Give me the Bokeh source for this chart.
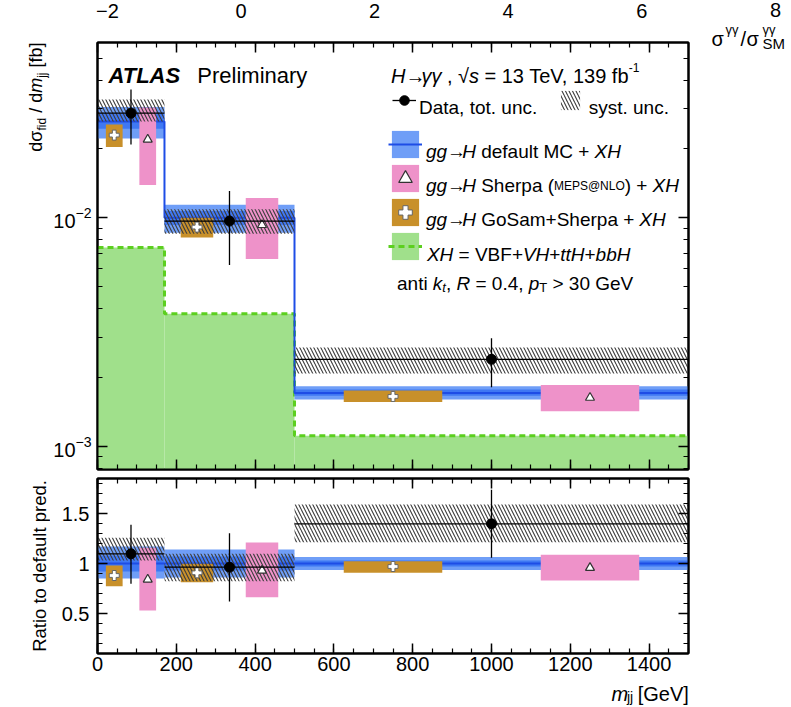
import math
from bokeh.plotting import figure
from bokeh.layouts import column, row
from bokeh.models import (ColumnDataSource, Range1d, LinearAxis, LogAxis, FixedTicker,
                          SingleIntervalTicker, Label, Legend, LegendItem)
from bokeh.embed import file_html
from bokeh.resources import INLINE

# ---------------- data ----------------
bin_edges = [0, 170, 500, 1500]

# main panel: d sigma / d m_jj [fb]
data_val = [0.0287, 0.00967, 0.0024]
data_tot_lo = [0.0209, 0.00621, 0.00181]
data_tot_hi = [0.0364, 0.0131, 0.00297]
data_sys_lo = [0.0264, 0.0085, 0.00208]
data_sys_hi = [0.0329, 0.0109, 0.0027]
mc_val = [0.0264, 0.0100, 0.00171]
mc_out_lo = [0.0222, 0.0086, 0.00160]
mc_out_hi = [0.0305, 0.0114, 0.00183]
mc_in_lo = [0.0245, 0.0093, 0.00166]
mc_in_hi = [0.0285, 0.0107, 0.00177]
sherpa_val = [0.0220, 0.0093, 0.00163]
sherpa_lo = [0.0139, 0.0066, 0.00142]
sherpa_hi = [0.0304, 0.0122, 0.00185]
gosam_val = [0.0230, 0.0091, 0.00165]
gosam_lo = [0.0204, 0.0082, 0.00156]
gosam_hi = [0.0256, 0.0100, 0.00175]
xh_val = [0.0074, 0.0038, 0.00111]

# ratio panel: ratio to default prediction
r_data = [1.097, 0.963, 1.397]
r_tot_lo = [0.797, 0.62, 1.057]
r_tot_hi = [1.387, 1.303, 1.737]
r_sys_lo = [1.03, 0.823, 1.213]
r_sys_hi = [1.257, 1.097, 1.59]
r_mc = [1.0, 1.0, 1.0]
r_mc_out_lo = [0.85, 0.86, 0.935]
r_mc_out_hi = [1.17, 1.14, 1.065]
r_mc_in_lo = [0.92, 0.93, 0.97]
r_mc_in_hi = [1.08, 1.07, 1.03]
r_sherpa = [0.84, 0.93, 0.957]
r_sherpa_lo = [0.53, 0.663, 0.83]
r_sherpa_hi = [1.157, 1.21, 1.087]
r_gosam = [0.88, 0.907, 0.97]
r_gosam_lo = [0.773, 0.813, 0.907]
r_gosam_hi = [0.98, 0.997, 1.023]

# axis ticks
x_tick_interval = 200
main_y_ticks = [1e-3, 1e-2]
ratio_y_ticks = [0.5, 1.0, 1.5]
mu_ticks = [-2, 0, 2, 4, 6]
mu_extra_tick = 8

# ---------------- style / geometry ----------------
FONT = "Liberation Sans"
BLUE_OUT = "#6f9ef7"
BLUE_IN = "#3f78f3"
BLUE_LINE = "#1e4de6"
PINK = "#ee92c9"
ORANGE = "#c8902a"
GREEN_FILL = "#a0e08b"
GREEN_LINE = "#5ccf1f"
HATCH = "#3c3c3c"

X_RANGE = (0, 1500)
Y1_RANGE = (7.9e-4, 0.0585)
Y2_RANGE = (0.1, 1.85)
MU_RANGE = (-2.149, 6.70)

PAGE_W, PAGE_H = 789, 705
LW = 50                      # left text strip
FL, FR = 96, 688             # frame left / right (page px)
FT1, FB1 = 41, 469           # main frame top / bottom
FT2, FB2 = 478, 653          # ratio frame top / bottom
RB = 4                       # right border of the panels
MID_W = (FL - LW) + (FR - FL) + RB
RW = PAGE_W - LW - MID_W     # right text strip
H1 = FB1 + 5
H2 = (FB2 - H1) + 27
BH = PAGE_H - H1 - H2        # bottom text strip
R_LEFT = LW + MID_W
B_TOP = H1 + H2


def gx(px):
    return X_RANGE[0] + (px - FL) / (FR - FL) * (X_RANGE[1] - X_RANGE[0])


def gy1(py):
    a, b = math.log10(Y1_RANGE[0]), math.log10(Y1_RANGE[1])
    return 10 ** (b - (py - FT1) / (FB1 - FT1) * (b - a))


_W = {' ': 278, '!': 278, '(': 333, ')': 333, '+': 584, ',': 278, '-': 333, '.': 278,
      '/': 278, '=': 584, '>': 584, '@': 1015, '[': 278, ']': 278,
      'A': 667, 'B': 667, 'C': 722, 'D': 722, 'E': 667, 'F': 611, 'G': 778, 'H': 722,
      'I': 278, 'J': 500, 'K': 667, 'L': 556, 'M': 833, 'N': 722, 'O': 778, 'P': 667,
      'Q': 778, 'R': 722, 'S': 667, 'T': 611, 'U': 722, 'V': 667, 'W': 944, 'X': 667,
      'Y': 667, 'Z': 611, 'a': 556, 'b': 556, 'c': 500, 'd': 556, 'e': 556, 'f': 278,
      'g': 556, 'h': 556, 'i': 222, 'j': 222, 'k': 500, 'l': 222, 'm': 833, 'n': 556,
      'o': 556, 'p': 556, 'q': 556, 'r': 333, 's': 500, 't': 278, 'u': 556, 'v': 500,
      'w': 722, 'x': 500, 'y': 500, 'z': 500, 'γ': 500, 'σ': 617, '→': 800, '√': 549,
      '−': 584}


def tw(text, size):
    return sum(_W.get(c, 556) for c in text) * size / 1000.0


def add_label(p, x, y, text, size, style="normal", angle=0.0, align="left", baseline="alphabetic"):
    p.add_layout(Label(x=x, y=y, text=text, text_font=FONT, text_font_size=f"{size}px",
                       text_font_style=style, text_color="black", angle=angle,
                       text_align=align, text_baseline=baseline))


def hlabels(p, segs, x0, base, cx, cy, align="left"):
    """segments: (text, size, style, raise_px[, extra_x_shift])"""
    total = sum(tw(sg[0], sg[1]) for sg in segs)
    x = x0 - total if align == "right" else x0
    for sg in segs:
        t, s, st, dy = sg[:4]
        sh = sg[4] if len(sg) > 4 else 0
        lead = len(t) - len(t.lstrip(" "))
        add_label(p, cx(x + sh + tw(t[:lead], s)), cy(base - dy), t.strip(" "), s, st)
        x += tw(t, s) + sh


def vlabels(p, segs, center_x, y_start, cx, cy):
    """rotated text reading upward from page y = y_start; center_x is the glyph-body centre"""
    y = y_start
    for t, s, st, dx in segs:
        lead = len(t) - len(t.lstrip(" "))
        add_label(p, cx(center_x + dx), cy(y - tw(t[:lead], s)), t.strip(" "), s, st,
                  angle=math.pi / 2, baseline="middle")
        y -= tw(t, s)


def style_axis(ax, labels=True, size="20px", standoff=6):
    ax.major_tick_in = 10
    ax.major_tick_out = 0
    ax.minor_tick_in = 5
    ax.minor_tick_out = 0
    ax.major_tick_line_color = "black"
    ax.minor_tick_line_color = "black"
    ax.major_tick_line_width = 1.5
    ax.minor_tick_line_width = 1.2
    ax.axis_line_color = "black"
    ax.axis_line_width = 2
    ax.major_label_text_font = FONT
    if labels:
        ax.major_label_text_color = "black"
        ax.major_label_text_font_size = size
        ax.major_label_standoff = standoff
    else:
        ax.major_label_text_color = None
        ax.major_label_text_font_size = "1px"
        ax.major_label_standoff = 0


def strip(w, h):
    f = figure(width=w, height=h, x_range=Range1d(0, w), y_range=Range1d(h, 0),
               x_axis_location=None, y_axis_location=None, toolbar_location=None,
               output_backend="svg", min_border_left=0, min_border_right=0,
               min_border_top=0, min_border_bottom=0)
    f.outline_line_color = None
    f.grid.visible = False
    f.background_fill_color = "white"
    f.border_fill_color = "white"
    return f


# ---------------- sources ----------------
lo = bin_edges[:-1]
hi = bin_edges[1:]
wid = [b - a for a, b in zip(lo, hi)]
ctr = [a + 0.5 * w for a, w in zip(lo, wid)]
gosam_x = [a + 0.25 * w for a, w in zip(lo, wid)]
sherpa_x = [a + 0.75 * w for a, w in zip(lo, wid)]
box_half = [0.125 * w for w in wid]

geo = dict(left=lo, right=hi, x=ctr, gx=gosam_x, sx=sherpa_x,
           gl=[a - h for a, h in zip(gosam_x, box_half)], gr=[a + h for a, h in zip(gosam_x, box_half)],
           sl=[a - h for a, h in zip(sherpa_x, box_half)], sr=[a + h for a, h in zip(sherpa_x, box_half)])

main_src = ColumnDataSource(dict(geo, val=data_val, tlo=data_tot_lo, thi=data_tot_hi,
                                 slo=data_sys_lo, shi=data_sys_hi,
                                 olo=mc_out_lo, ohi=mc_out_hi, ilo=mc_in_lo, ihi=mc_in_hi,
                                 sv=sherpa_val, svlo=sherpa_lo, svhi=sherpa_hi,
                                 gv=gosam_val, gvlo=gosam_lo, gvhi=gosam_hi, xh=xh_val,
                                 base=[Y1_RANGE[0]] * len(xh_val)))
ratio_src = ColumnDataSource(dict(geo, val=r_data, tlo=r_tot_lo, thi=r_tot_hi,
                                  slo=r_sys_lo, shi=r_sys_hi,
                                  olo=r_mc_out_lo, ohi=r_mc_out_hi, ilo=r_mc_in_lo, ihi=r_mc_in_hi,
                                  sv=r_sherpa, svlo=r_sherpa_lo, svhi=r_sherpa_hi,
                                  gv=r_gosam, gvlo=r_gosam_lo, gvhi=r_gosam_hi))


def draw(p, s, mc_line):
    r = {}
    r["out"] = p.quad(left="left", right="right", bottom="olo", top="ohi", source=s,
                      fill_color=BLUE_OUT, line_color=None)
    r["in"] = p.quad(left="left", right="right", bottom="ilo", top="ihi", source=s,
                     fill_color=BLUE_IN, line_color=None)
    r["line"] = p.step(x=bin_edges, y=mc_line + [mc_line[-1]], mode="after",
                       line_color=BLUE_LINE, line_width=2)
    r["pink"] = p.quad(left="sl", right="sr", bottom="svlo", top="svhi", source=s,
                       fill_color=PINK, line_color=None)
    r["orange"] = p.quad(left="gl", right="gr", bottom="gvlo", top="gvhi", source=s,
                         fill_color=ORANGE, line_color=None)
    r["hatch"] = p.quad(left="left", right="right", bottom="slo", top="shi", source=s,
                        fill_alpha=0, line_color=None, hatch_pattern="\\",
                        hatch_color=HATCH, hatch_weight=1.1, hatch_scale=7)
    r["tri"] = p.scatter(x="sx", y="sv", source=s, marker="triangle", size=9,
                         fill_color="white", line_color="#333333", line_width=1.2)
    r["plus"] = p.scatter(x="gx", y="gv", source=s, marker="plus", size=10,
                          fill_color="white", line_color="#666666", line_width=1)
    r["hseg"] = p.segment(x0="left", x1="right", y0="val", y1="val", source=s,
                          line_color="black", line_width=1.3)
    r["vseg"] = p.segment(x0="x", x1="x", y0="tlo", y1="thi", source=s,
                          line_color="black", line_width=1.3)
    r["dot"] = p.scatter(x="x", y="val", source=s, marker="circle", size=10,
                         fill_color="black", line_color="black")
    return r


# ---------------- main panel ----------------
p1 = figure(width=MID_W, height=H1, x_range=Range1d(*X_RANGE), y_range=Range1d(*Y1_RANGE),
            y_axis_type="log", output_backend="svg", toolbar_location=None,
            min_border_left=FL - LW, min_border_right=RB, min_border_top=FT1, min_border_bottom=H1 - FB1)
p1.extra_x_ranges = {"mu": Range1d(*MU_RANGE)}
p1.xgrid.grid_line_color = None
p1.ygrid.grid_line_color = None
p1.outline_line_color = "black"
p1.outline_line_width = 2
p1.background_fill_color = "white"
p1.border_fill_color = "white"

g_fill = p1.quad(left="left", right="right", bottom="base", top="xh", source=main_src,
                 fill_color=GREEN_FILL, line_color=None)
g_line = p1.step(x=bin_edges, y=xh_val + [xh_val[-1]], mode="after",
                 line_color=GREEN_LINE, line_width=3, line_dash="6 4")
m = draw(p1, main_src, mc_val)

xt = SingleIntervalTicker(interval=x_tick_interval, num_minor_ticks=4)
yt1 = FixedTicker(ticks=main_y_ticks,
                  minor_ticks=[k * 10 ** e for e in (-4, -3, -2) for k in range(2, 10)])
style_axis(p1.xaxis[0], labels=False)
p1.xaxis[0].ticker = xt
style_axis(p1.yaxis[0], labels=True, standoff=6)
p1.yaxis[0].ticker = yt1

ax = LinearAxis(ticker=xt)
style_axis(ax, labels=False)
p1.add_layout(ax, "above")
mu_ax = LinearAxis(x_range_name="mu", ticker=FixedTicker(ticks=mu_ticks))
style_axis(mu_ax, labels=True, standoff=25)
mu_ax.axis_line_color = None
mu_ax.major_tick_line_color = None
mu_ax.minor_tick_line_color = None
mu_ax.major_label_overrides = {-2: "\u22122"}
p1.add_layout(mu_ax, "above")
ax = LogAxis(ticker=yt1)
style_axis(ax, labels=False)
p1.add_layout(ax, "right")

# texts in the main frame (page px -> data)
ident = lambda v: v
add_label(p1, gx(107), gy1(74), "ATLAS", 22, "bold italic")
add_label(p1, gx(196), gy1(74), "Preliminary", 22)
hlabels(p1, [("H", 20, "italic", 0), ("→", 20, "normal", 0), ("γγ", 20, "italic", 0),
             (" , ", 20, "normal", 0), ("√", 20, "normal", 0), ("s", 20, "italic", 0),
             (" = 13 TeV, 139 fb", 20, "normal", 0), ("-1", 12, "normal", 8, -4)], 390, 74.5, gx, gy1)
hlabels(p1, [("anti ", 19, "normal", 0), ("k", 19, "italic", 0), ("t", 13, "italic", -4),
             (", ", 19, "normal", 0), ("R", 19, "italic", 0), (" = 0.4, ", 19, "normal", 0),
             ("p", 19, "italic", 0), ("T", 13, "normal", -4), (" > 30 GeV", 19, "normal", 0)],
        396, 283, gx, gy1)

# legend labels
LEG_FS = 19
hlabels(p1, [("Data, tot. unc.", LEG_FS, "normal", 0)], 418, 106, gx, gy1)
hlabels(p1, [("syst. unc.", LEG_FS, "normal", 0)], 588, 106, gx, gy1)
hlabels(p1, [("gg", LEG_FS, "italic", 0), ("→", LEG_FS, "normal", 0), ("H", LEG_FS, "italic", 0),
             (" default MC + ", LEG_FS, "normal", 0), ("XH", LEG_FS, "italic", 0)], 425, 150, gx, gy1)
hlabels(p1, [("gg", LEG_FS, "italic", 0), ("→", LEG_FS, "normal", 0), ("H", LEG_FS, "italic", 0),
             (" Sherpa (", LEG_FS, "normal", 0), ("MEPS@NLO", 12, "normal", 0),
             (") + ", LEG_FS, "normal", 0), ("XH", LEG_FS, "italic", 0)], 425, 184.5, gx, gy1)
hlabels(p1, [("gg", LEG_FS, "italic", 0), ("→", LEG_FS, "normal", 0), ("H", LEG_FS, "italic", 0),
             (" GoSam+Sherpa + ", LEG_FS, "normal", 0), ("XH", LEG_FS, "italic", 0)], 425, 218.5, gx, gy1)
hlabels(p1, [("XH", LEG_FS, "italic", 0), (" = VBF+", LEG_FS, "normal", 0), ("VH", LEG_FS, "italic", 0),
             ("+", LEG_FS, "normal", 0), ("ttH", LEG_FS, "italic", 0), ("+", LEG_FS, "normal", 0),
             ("bbH", LEG_FS, "italic", 0)], 426, 253, gx, gy1)

# legend swatches
L1_LEFT, L1_TOP, L1_G = 391, 88, 24
SYST_LEFT = 557
leg1 = Legend(items=[LegendItem(label=" ", renderers=[m["hseg"], m["dot"]]),
                     LegendItem(label=" ", renderers=[m["hatch"]])],
              orientation="horizontal", location=(L1_LEFT - FL, FB1 - (L1_TOP + L1_G)),
              glyph_width=L1_G, glyph_height=L1_G, label_height=L1_G, label_width=0,
              spacing=SYST_LEFT - (L1_LEFT + L1_G), padding=0, margin=0, label_standoff=0,
              label_text_font=FONT, label_text_font_size="1px",
              background_fill_alpha=0, border_line_color=None)
L2_LEFT, L2_TOP, L2_G = 386.6, 126.6, 34
leg2 = Legend(items=[LegendItem(label=" ", renderers=[m["out"], m["line"]]),
                     LegendItem(label=" ", renderers=[m["pink"], m["tri"]]),
                     LegendItem(label=" ", renderers=[m["orange"], m["plus"]]),
                     LegendItem(label=" ", renderers=[g_fill, g_line])],
              orientation="vertical", location=(L2_LEFT - FL, FB1 - (L2_TOP + 4 * L2_G)),
              glyph_width=L2_G, glyph_height=L2_G, label_height=L2_G, label_width=0,
              spacing=0, padding=0, margin=0, label_standoff=0,
              label_text_font=FONT, label_text_font_size="1px",
              background_fill_alpha=0, border_line_color=None)
p1.add_layout(leg1, "center")
p1.add_layout(leg2, "center")

# ---------------- ratio panel ----------------
p2 = figure(width=MID_W, height=H2, x_range=p1.x_range, y_range=Range1d(*Y2_RANGE),
            output_backend="svg", toolbar_location=None,
            min_border_left=FL - LW, min_border_right=RB, min_border_top=FT2 - H1,
            min_border_bottom=H1 + H2 - FB2)
p2.xgrid.grid_line_color = None
p2.ygrid.grid_line_color = None
p2.outline_line_color = "black"
p2.outline_line_width = 2
p2.background_fill_color = "white"
p2.border_fill_color = "white"
draw(p2, ratio_src, r_mc)

yt2 = FixedTicker(ticks=ratio_y_ticks, minor_ticks=[round(0.1 * k, 1) for k in range(1, 19)])
style_axis(p2.xaxis[0], labels=True, standoff=3)
p2.xaxis[0].ticker = xt
style_axis(p2.yaxis[0], labels=True, standoff=8)
p2.yaxis[0].ticker = yt2
p2.yaxis[0].major_label_overrides = {0.5: "0.5", 1: "1", 1.5: "1.5"}
ax = LinearAxis(ticker=xt)
style_axis(ax, labels=False)
p2.add_layout(ax, "above")
ax = LinearAxis(ticker=yt2)
style_axis(ax, labels=False)
p2.add_layout(ax, "right")

# ---------------- text strips around the panels ----------------
left = strip(LW, PAGE_H)
main_ytitle = [("dσ", 18, "normal", 0), ("fid", 12, "normal", 6), (" / d", 18, "normal", 0),
               ("m", 18, "italic", 0), ("jj", 12, "normal", 6), (" [fb]", 18, "normal", 0)]
vlabels(left, main_ytitle, 35.5, FT1 + 1 + sum(tw(t, s) for t, s, _, _ in main_ytitle), ident, ident)
ratio_ytitle = [("Ratio to default pred.", 18.5, "normal", 0)]
vlabels(left, ratio_ytitle, 39, (FT2 + FB2) / 2 + tw(ratio_ytitle[0][0], 18.5) / 2, ident, ident)

right = strip(RW, PAGE_H)
rx = lambda v: v - R_LEFT
add_label(right, rx(775), 9, str(mu_extra_tick), 20, align="center", baseline="middle")
for t, s, dy, x in [("σ", 20, 0, 711), ("γγ", 13, 9, 725), ("/", 20, 0, 740), ("σ", 20, 0, 746),
                    ("γγ", 13, 9, 762), ("SM", 15, -5, 762)]:
    add_label(right, rx(x), 38 - dy, t, s)

bottom = strip(MID_W, BH)
hlabels(bottom, [("m", 20, "italic", 0), ("jj", 14, "normal", -3), (" [GeV]", 20, "normal", 0)],
        FR, 693, lambda v: v - LW, lambda v: v - B_TOP, align="right")

layout = row(left, column(p1, p2, bottom), right)
open("out.html", "w").write(file_html(layout, INLINE))
